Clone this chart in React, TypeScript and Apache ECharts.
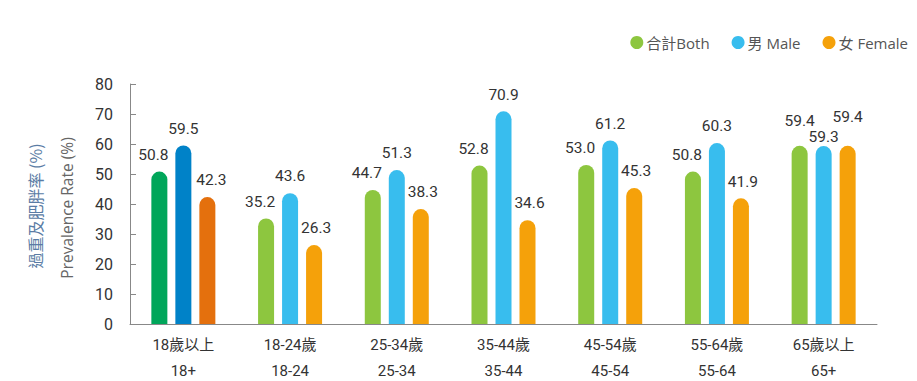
import React, { useEffect, useRef } from "react";
import * as echarts from "echarts";

const categories = ["18歲以上\n18+", "18-24歲\n18-24", "25-34歲\n25-34", "35-44歲\n35-44", "45-54歲\n45-54", "55-64歲\n55-64", "65歲以上\n65+"];
const bothValues = [50.8, 35.2, 44.7, 52.8, 53.0, 50.8, 59.4];
const maleValues = [59.5, 43.6, 51.3, 70.9, 61.2, 60.3, 59.3];
const femaleValues = [42.3, 26.3, 38.3, 34.6, 45.3, 41.9, 59.4];
const seriesNames = ["合計Both", "男 Male", "女 Female"];
const yTicks = [0, 10, 20, 30, 40, 50, 60, 70, 80];

const FONT = "Roboto, 'Noto Sans CJK TC', sans-serif";
const LFONT = "'Open Sans', 'Noto Sans CJK TC', sans-serif";

export default function App() {
  const ref = useRef<HTMLDivElement>(null);
  useEffect(() => {
    if (!ref.current) return;
    document.body.style.margin = "0";
    const chart = echarts.init(ref.current, null, { renderer: "svg" });
    const colors = ["#8dc63f", "#38bdee", "#f5a10a"];
    const firstColors = ["#00a65a", "#0082c8", "#e4700d"];
    const baseOffsets: number[][] = [[-6, 0], [0, 0], [2, 0]];
    const lastOffsets: number[][] = [[0, -8.5], [0, 7.5], [0, -12.5]];
    const firstOffsets: number[][] = [[-6, 0], [0, 0], [4, 0]];
    const all = [bothValues, maleValues, femaleValues];
    const series = all.map((vals, si) => ({
      name: seriesNames[si],
      type: "bar",
      barWidth: 16,
      barGap: "50%",
      itemStyle: { color: colors[si], borderRadius: [8, 8, 0, 0] },
      label: {
        show: true,
        position: "top",
        distance: 9,
        fontSize: 15.5,
        fontFamily: FONT,
        color: "#333",
        formatter: (p: any) => Number(p.value).toFixed(1),
        offset: baseOffsets[si],
      },
      data: vals.map((v, i) => {
        const item: any = { value: v };
        if (i === 0) {
          item.itemStyle = { color: firstColors[si] };
          item.label = { offset: firstOffsets[si] };
        }
        if (i === vals.length - 1) {
          item.label = { offset: lastOffsets[si] };
        }
        return item;
      }),
    }));
    chart.setOption({
      animation: false,
      color: colors,
      legend: {
        right: 4,
        top: 30,
        icon: "circle",
        itemWidth: 13,
        itemHeight: 13,
        itemGap: 22,
        textStyle: { fontSize: 15, color: "#555", fontFamily: LFONT, padding: [0, 0, 0, -2] },
        data: seriesNames,
      },
      grid: { left: 130, right: 40, top: 84, bottom: 57, outerBoundsMode: "none" },
      xAxis: {
        type: "category",
        data: categories,
        axisLine: { lineStyle: { color: "#888", width: 1 } },
        axisTick: { show: true, inside: true, alignWithLabel: true, length: 5, lineStyle: { color: "#888" } },
        axisLabel: { fontSize: 15, color: "#333", fontFamily: FONT, lineHeight: 26, margin: 8 },
      },
      yAxis: {
        type: "value",
        min: yTicks[0],
        max: yTicks[yTicks.length - 1],
        interval: 10,
        splitLine: { show: false },
        axisLine: { show: true, lineStyle: { color: "#888", width: 1 } },
        axisTick: { show: true, inside: true, length: 6, lineStyle: { color: "#888" } },
        axisLabel: { fontSize: 16, color: "#333", fontFamily: FONT, margin: 17 },
      },
      graphic: [
        {
          type: "text",
          x: 67,
          y: 208,
          rotation: Math.PI / 2,
          style: {
            text: "Prevalence Rate (%)",
            fontSize: 15.5,
            fontFamily: LFONT,
            fill: "#666",
            align: "center",
            verticalAlign: "middle",
          },
        },
        {
          type: "text",
          x: 35,
          y: 206,
          rotation: Math.PI / 2,
          style: {
            text: "過重及肥胖率 (%)",
            fontSize: 16,
            fontFamily: "'Noto Sans CJK TC', 'Open Sans', sans-serif",
            fill: "#5a7ca5",
            align: "center",
            verticalAlign: "middle",
          },
        },
      ],
      series,
    });
    return () => chart.dispose();
  }, []);
  return <div ref={ref} style={{ width: 917, height: 381 }} />;
}
